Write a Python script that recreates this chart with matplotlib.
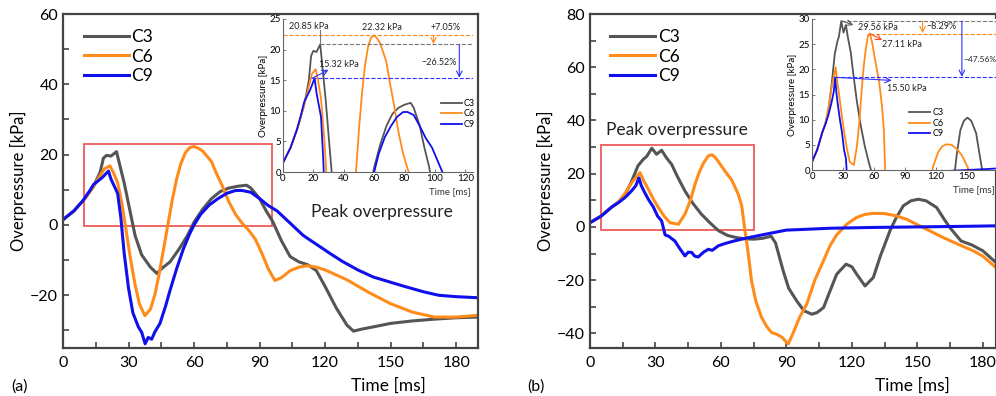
import matplotlib
matplotlib.use("Agg")
import matplotlib.pyplot as plt
from matplotlib.patches import Rectangle
from matplotlib.ticker import MultipleLocator

plt.rcParams['font.family'] = ['Lato', 'DejaVu Sans']

# ---- panel (a) data ----
t_a_c3 = [0, 5, 10, 14, 17, 18.5, 20, 22, 24.5, 26, 28, 30, 33, 36, 40, 43, 45, 49, 53, 57, 60, 64, 68, 72,
          76, 80, 84, 86, 90, 93, 96, 100, 104, 108, 112, 116, 120, 125, 130, 133, 137, 142, 150, 160, 170, 180, 190]
p_a_c3 = [1.5, 4, 7.5, 11, 15, 19, 19.8, 19.6, 20.85, 17, 12, 6, -3, -8.5, -12, -13.8, -12.5, -10.5, -7, -3, 0.8,
          4.5, 7.5, 9.5, 10.5, 11, 11.3, 10.5, 7.5, 4, 1, -4.5, -9, -10.5, -11.3, -13, -17.5, -23.5, -28.5, -30.2,
          -29.6, -29, -28, -27.3, -26.8, -26.4, -26.2]

t_a_c6 = [0, 5, 10, 14, 17, 19, 21.5, 23, 25, 27, 29, 31, 33, 35, 37.5, 40, 42, 44, 46, 48, 50, 52, 54, 56, 58,
          60, 62, 64, 66, 68, 70, 73, 76, 79, 82, 85, 88, 91, 94, 97, 100, 104, 108, 112, 116, 120, 125, 130, 135,
          140, 150, 160, 170, 180, 190]
p_a_c6 = [1.5, 4, 7.5, 11, 14, 16, 16.8, 15, 12, 6, -2, -10, -17, -22.5, -25.8, -24, -20, -14, -7, 0, 7, 13, 17.5,
          20.5, 22, 22.32, 21.8, 21, 19.5, 18, 15, 11, 6.5, 3, 0.5, -1.5, -4, -8, -12.5, -15.8, -15, -13, -12,
          -11.6, -12, -12.8, -14.2, -15.6, -17.4, -19.2, -22.4, -24.8, -26.2, -26.2, -25.7]

t_a_c9 = [0, 5, 9, 12, 14, 16, 18, 20.8, 22, 23.5, 25, 26.5, 28, 30, 32, 34.5, 36, 37.6, 39, 40.6, 42, 44.4, 47,
          49, 52, 55, 58, 60, 63, 67, 71, 75, 79, 82, 86, 90, 94, 98, 104, 110, 116, 122, 128, 135, 142, 150, 157,
          165, 172, 180, 190]
p_a_c9 = [1.5, 4, 6.8, 9.5, 11.5, 12.5, 13.5, 15.32, 13, 11, 9, 2, -8, -18, -25, -29, -30.5, -33.8, -32, -32.5,
          -30.5, -28, -23, -18.6, -12.5, -7, -2.5, 0, 3, 5.7, 7.5, 9, 9.8, 9.8, 9.3, 7.5, 5.5, 4, 0.5, -3, -5.5,
          -8, -10.4, -12.8, -14.8, -16.3, -17.6, -19, -20, -20.4, -20.7]

# ---- panel (b) data ----
t_b_c3 = [0, 5, 10, 13, 16, 19, 22, 24.4, 26, 28.3, 30.5, 32.8, 35, 37.4, 40, 43.5, 47, 51, 55, 59, 63, 67, 71,
          75, 79, 83, 85, 88.5, 91, 94.7, 98, 101.6, 104, 107, 110, 113, 117.3, 120, 122.2, 126, 129.8, 133, 137.4,
          140, 143.5, 147, 150.4, 154, 158.8, 162, 164.9, 170, 175, 180, 186]
p_b_c3 = [1.6, 4, 7.5, 9.3, 12, 17, 23, 25.4, 26.5, 29.56, 27.3, 28.8, 26, 23.5, 19, 13.5, 9, 4.8, 1.5, -1.5, -3.2,
          -4, -4.5, -4.6, -4.3, -3.5, -6, -16.5, -23, -27.8, -31.5, -32.8, -32.2, -30.3, -24, -17.8, -14, -15,
          -17.8, -22.2, -19, -11, -1.5, 3, 7.9, 9.8, 10.4, 9.8, 7.3, 3.2, -0.3, -5.3, -6.8, -9, -13.4]

t_b_c6 = [0, 5, 10, 13, 16, 19, 21, 22.9, 24.5, 26.7, 29, 31.3, 34, 36.6, 40.5, 43.5, 46, 48.1, 50, 52, 54.2, 56,
          58, 61.8, 65, 67.9, 69.5, 71, 72.5, 74, 76, 78.6, 81, 83.2, 86, 88, 90.8, 93, 96, 99.3, 103, 106.9, 110,
          113, 117.6, 122, 126, 129.8, 135, 140, 145, 150, 155, 160.3, 165, 170, 175.6, 180, 186]
p_b_c6 = [1.6, 4, 7.5, 9.3, 12.5, 16.5, 18.5, 20.4, 17.5, 14.2, 10.5, 7.3, 4, 1.6, 1, 4.8, 10, 16, 20.5, 24, 26.7,
          27.11, 25.5, 21, 17.5, 12.3, 8, -1.5, -10, -20.3, -28, -34, -37.5, -39.7, -40.5, -41.5, -44, -40, -34,
          -29, -20, -12.8, -7, -3, 1, 3.5, 4.7, 5.1, 5, 4.2, 2.9, 0.8, -1.2, -3.4, -5.2, -7, -9, -11, -15.3]

t_b_c9 = [0, 5, 10, 13, 16, 19, 21, 22.4, 23.5, 25, 27, 29, 31, 32.8, 34.4, 36, 38.9, 41, 43.5, 45, 46.6, 48, 49.6,
          52, 54.2, 56, 58.8, 62, 66, 70, 74, 80, 85, 90, 99, 110, 130, 150, 170, 186]
p_b_c9 = [1.6, 4, 7.5, 9.1, 11, 13.5, 15.5, 18.4, 15.5, 13, 10, 7.5, 4, 2.3, -3, -3.5, -5.3, -8, -10.9, -9.5, -9.6,
          -11, -11.3, -9.5, -8.4, -8.8, -7.1, -6.2, -5.3, -4.5, -3.8, -2.8, -2, -1.2, -0.9, -0.5, -0.2, 0, 0.2, 0.4]

labels = ["C3", "C6", "C9"]
colors = ["#555555", "#ff8c1a", "#1010ee"]

fig = plt.figure(figsize=(9.96, 3.96), dpi=100)
ax_a = fig.add_axes([63/996, 1-348/396, 415/996, 334/396])
ax_b = fig.add_axes([590/996, 1-348/396, 406/996, 334/396])
in_a = fig.add_axes([283/996, 1-172/396, 190/996, 153/396])
in_b = fig.add_axes([812/996, 1-170/396, 184/996, 151/396])

series_a = [(t_a_c3, p_a_c3), (t_a_c6, p_a_c6), (t_a_c9, p_a_c9)]
series_b = [(t_b_c3, p_b_c3), (t_b_c6, p_b_c6), (t_b_c9, p_b_c9)]


def style_main(ax, ylim, xlim):
    ax.set_xlim(*xlim)
    ax.set_ylim(*ylim)
    ax.xaxis.set_major_locator(MultipleLocator(30))
    ax.xaxis.set_minor_locator(MultipleLocator(15))
    ax.yaxis.set_major_locator(MultipleLocator(20))
    ax.yaxis.set_minor_locator(MultipleLocator(10))
    ax.tick_params(which='both', direction='in', length=4, width=1.2, color='#444444', labelsize=11.5)
    ax.tick_params(axis='x', pad=6)
    for s in ax.spines.values():
        s.set_color('#444444')
        s.set_linewidth(1.6)
    ax.set_ylabel("Overpressure [kPa]", fontsize=12, labelpad=2)


def style_inset(ax, xlim, ylim, xstep, ystep):
    ax.set_xlim(*xlim)
    ax.set_ylim(*ylim)
    ax.set_facecolor('white')
    ax.xaxis.set_major_locator(MultipleLocator(xstep))
    ax.yaxis.set_major_locator(MultipleLocator(ystep))
    ax.tick_params(direction='in', length=2, width=0.6, labelsize=7, pad=1.5, color='#666666')
    ax.spines['top'].set_visible(False)
    ax.spines['right'].set_visible(False)
    for s in ['left', 'bottom']:
        ax.spines[s].set_color('#666666')
        ax.spines[s].set_linewidth(0.8)
    ax.set_ylabel("Overpressure [kPa]", fontsize=7, labelpad=1)
    ax.text(0.88, -0.13, "Time [ms]", transform=ax.transAxes, fontsize=7, ha='center', va='center', color='#333333')


# main curves
for (t, p), c, lab in zip(series_a, colors, labels):
    ax_a.plot(t, p, color=c, lw=2.2, label=lab)
for (t, p), c, lab in zip(series_b, colors, labels):
    ax_b.plot(t, p, color=c, lw=2.2, label=lab)

style_main(ax_a, (-35, 60), (0, 190))
style_main(ax_b, (-45.5, 80), (0, 186))

for ax in (ax_a, ax_b):
    ax.legend(loc='upper left', bbox_to_anchor=(0.05, 0.955), frameon=False, fontsize=12.5,
              handlelength=2.6, handletextpad=0.15, labelspacing=0.2, borderpad=0, borderaxespad=0)

ax_a.add_patch(Rectangle((9.5, -0.3), 86, 23.3, fill=False, ec='#f05a5a', lw=1.3))
ax_b.add_patch(Rectangle((5, -1.1), 70, 31.9, fill=False, ec='#f05a5a', lw=1.3))
ax_a.text(146, 3.8, "Peak overpressure", fontsize=12.5, ha='center', va='center', color='#222222')
ax_b.text(7.5, 36.5, "Peak overpressure", fontsize=12.5, ha='left', va='center', color='#222222')

ax_a.text(0.783, -0.112, "Time [ms]", transform=ax_a.transAxes, fontsize=12.5, ha='center', va='center')
ax_b.text(0.793, -0.112, "Time [ms]", transform=ax_b.transAxes, fontsize=12.5, ha='center', va='center')
fig.text(0.02, 0.025, "(a)", fontsize=11.5, ha='center', va='center')
fig.text(0.538, 0.025, "(b)", fontsize=11.5, ha='center', va='center')

# insets
for (t, p), c, lab in zip(series_a, colors, labels):
    in_a.plot(t, p, color=c, lw=1.3, label=lab)
for (t, p), c, lab in zip(series_b, colors, labels):
    in_b.plot(t, p, color=c, lw=1.3, label=lab)

style_inset(in_a, (0, 125), (0, 25), 20, 5)
style_inset(in_b, (0, 178), (0, 30), 30, 5)

for ax, pos in ((in_a, (0.92, 0.38)), (in_b, (0.62, 0.31))):
    ax.legend(loc='center', bbox_to_anchor=pos, frameon=False, fontsize=6.5, handlelength=2.4,
              handletextpad=0.2, labelspacing=0.15, borderpad=0)

# inset (a) annotations
in_a.axhline(22.32, color='#ff8c1a', ls='--', lw=0.8)
in_a.plot([24.5, 125], [20.85, 20.85], color='#777777', ls='--', lw=0.8)
in_a.plot([19, 125], [15.32, 15.32], color='#3030ff', ls='--', lw=0.8)
in_a.plot([24.5, 24.5], [20.85, 23.2], color='#777777', lw=0.8)
in_a.text(17, 23.8, "20.85 kPa", fontsize=6.5, ha='center', va='center', color='#222222')
in_a.text(65, 23.6, "22.32 kPa", fontsize=6.5, ha='center', va='center', color='#222222')
in_a.text(107, 23.6, "+7.05%", fontsize=6.5, ha='center', va='center', color='#222222')
in_a.text(103, 17.9, "\u221226.52%", fontsize=6.5, ha='center', va='center', color='#222222')
in_a.text(37, 17.6, "15.32 kPa", fontsize=6.5, ha='center', va='center', color='#222222')
in_a.annotate("", xy=(99, 20.9), xytext=(99, 22.3),
              arrowprops=dict(arrowstyle='->', color='#ff8c1a', lw=0.8, shrinkA=0, shrinkB=0))
in_a.annotate("", xy=(116, 15.4), xytext=(116, 20.85),
              arrowprops=dict(arrowstyle='->', color='#3030ff', lw=0.8, shrinkA=0, shrinkB=0))
in_a.annotate("", xy=(30, 16.7), xytext=(19, 15.3),
              arrowprops=dict(arrowstyle='->', color='#3030ff', lw=0.8, shrinkA=0, shrinkB=0))

# inset (b) annotations
in_b.plot([28.3, 178], [29.56, 29.56], color='#777777', ls='--', lw=0.8)
in_b.plot([56, 178], [27.11, 27.11], color='#ff8c1a', ls='--', lw=0.8)
in_b.plot([22.4, 178], [18.4, 18.4], color='#3030ff', ls='--', lw=0.8)
in_b.annotate("", xy=(40, 28.8), xytext=(29, 29.6),
              arrowprops=dict(arrowstyle='->', color='#555555', lw=0.8, shrinkA=0, shrinkB=0))
in_b.annotate("", xy=(68, 25.8), xytext=(56, 27.1),
              arrowprops=dict(arrowstyle='->', color='#ff5020', lw=0.8, shrinkA=0, shrinkB=0))
in_b.annotate("", xy=(77, 17.8), xytext=(23, 18.4),
              arrowprops=dict(arrowstyle='->', color='#3030ff', lw=0.8, shrinkA=0, shrinkB=0))
in_b.annotate("", xy=(107, 27.2), xytext=(107, 29.56),
              arrowprops=dict(arrowstyle='->', color='#ff8c1a', lw=0.8, shrinkA=0, shrinkB=0))
in_b.annotate("", xy=(145, 18.5), xytext=(145, 29.56),
              arrowprops=dict(arrowstyle='->', color='#3030ff', lw=0.8, shrinkA=0, shrinkB=0))
in_b.text(64, 28.3, "29.56 kPa", fontsize=6.5, ha='center', va='center', color='#222222')
in_b.text(87, 25.0, "27.11 kPa", fontsize=6.5, ha='center', va='center', color='#222222')
in_b.text(125, 28.5, "\u22128.29%", fontsize=6.5, ha='center', va='center', color='#222222')
in_b.text(146, 22.0, "\u221247.56%", fontsize=6, ha='left', va='center', color='#222222')
in_b.text(92, 16.2, "15.50 kPa", fontsize=6.5, ha='center', va='center', color='#222222')

fig.savefig("out.png", dpi=100)
